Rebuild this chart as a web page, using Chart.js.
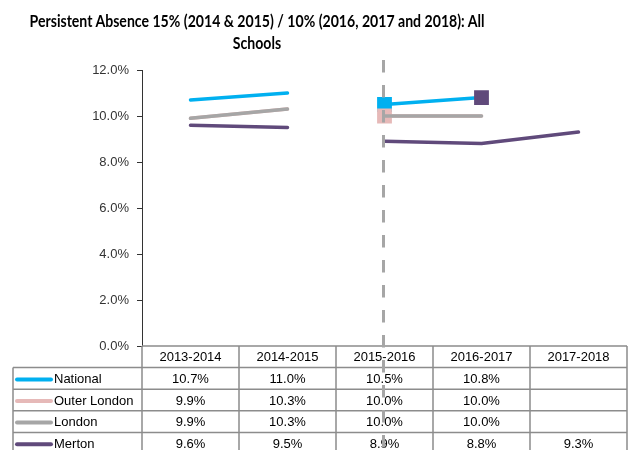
<!DOCTYPE html>
<html>
<head>
<meta charset="utf-8">
<script src="https://cdn.jsdelivr.net/npm/chart.js@4"></script>
<style>
  body { margin: 0; background: #fff; }
  #wrap { position: relative; width: 632px; height: 450px; overflow: hidden; }
  .tline {
    position: absolute; left: 257px; white-space: nowrap;
    font-family: Lato, "Liberation Sans", Arial, sans-serif;
    font-weight: bold; font-size: 17px; line-height: 22px; color: #000;
    transform-origin: 0 0;
  }
  canvas { position: absolute; left: 0; top: 0; }
</style>
</head>
<body>
<div id="wrap">
  <canvas id="chart" width="632" height="450"></canvas>
  <div class="tline" id="t1" style="top:10px">Persistent Absence 15% (2014 &amp; 2015) / 10% (2016, 2017 and 2018): All</div>
  <div class="tline" id="t2" style="top:32px">Schools</div>
</div>
<script>
const categories = ['2013-2014', '2014-2015', '2015-2016', '2016-2017', '2017-2018'];
const national = [10.7, 11.0, 10.5, 10.8, null];
const outerLondon = [9.9, 10.3, 10.0, 10.0, null];
const london = [9.9, 10.3, 10.0, 10.0, null];
const merton = [9.6, 9.5, 8.9, 8.8, 9.3];
const yTicks = [0, 2, 4, 6, 8, 10, 12];
const breakIndex = 2; // measure changed from 15% to 10% here

const BLUE = '#00B0F0', PINK = '#E6B9B8', GREY = '#A6A6A6', PURPLE = '#604A7B';

// squeeze the title to the narrow look of the original
const t1 = document.getElementById('t1'), t2 = document.getElementById('t2');
const k = 455 / t1.offsetWidth;
[t1, t2].forEach(el => {
    el.style.transform = `scaleX(${k}) translateX(-50%)`;
});

// no line across the change of threshold
const skipBreak = ctx => ctx.p1DataIndex === breakIndex ? 'rgba(0,0,0,0)' : undefined;

function lineSet(label, data, color, order, extra) {
    return Object.assign({
        label: label,
        data: data,
        borderColor: color,
        backgroundColor: color,
        borderWidth: 3.5,
        borderCapStyle: 'round',
        borderJoinStyle: 'round',
        pointRadius: 0,
        pointStyle: 'rect',
        tension: 0,
        order: order,
        segment: { borderColor: skipBreak }
    }, extra || {});
}

const dataTable = {
    id: 'dataTable',
    afterDraw(chart) {
        const ctx = chart.ctx;
        const xs = chart.scales.x;
        const top = chart.chartArea.bottom;
        const n = categories.length;
        const colW = (xs.right - xs.left) / n;
        const rowH = 21.6;
        const tableLeft = 13;
        const sets = chart.data.datasets;

        ctx.save();
        ctx.strokeStyle = '#8C8C8C';
        ctx.lineWidth = 1.5;
        ctx.font = '13px "Liberation Sans", Arial, sans-serif';
        ctx.textBaseline = 'middle';
        ctx.fillStyle = '#000';

        ctx.beginPath();
        ctx.moveTo(xs.left, top); ctx.lineTo(xs.right, top);
        for (let i = 0; i <= n; i++) {
            ctx.moveTo(xs.left + i * colW, top);
            ctx.lineTo(xs.left + i * colW, top + rowH * (sets.length + 1) + 4);
        }
        for (let r = 1; r <= sets.length; r++) {
            ctx.moveTo(tableLeft, top + r * rowH);
            ctx.lineTo(xs.right, top + r * rowH);
        }
        ctx.moveTo(tableLeft, top + rowH);
        ctx.lineTo(tableLeft, top + rowH * (sets.length + 1) + 4);
        ctx.stroke();

        ctx.textAlign = 'center';
        categories.forEach((c, i) => {
            ctx.fillText(c, xs.getPixelForValue(i), top + rowH / 2 + 1);
        });

        sets.forEach((ds, r) => {
            const cy = top + rowH * (r + 1) + rowH / 2 + 1;
            ctx.save();
            ctx.strokeStyle = ds.borderColor;
            ctx.lineWidth = 4;
            ctx.lineCap = 'round';
            ctx.beginPath();
            ctx.moveTo(tableLeft + 4, cy);
            ctx.lineTo(tableLeft + 38, cy);
            ctx.stroke();
            ctx.restore();
            ctx.textAlign = 'left';
            ctx.fillText(ds.label, tableLeft + 41, cy);
            ctx.textAlign = 'center';
            ds.data.forEach((v, i) => {
                if (v === null) return;
                ctx.fillText(v.toFixed(1) + '%', xs.getPixelForValue(i), cy);
            });
        });
        ctx.restore();
    }
};

const breakLine = {
    id: 'breakLine',
    afterDraw(chart) {
        const ctx = chart.ctx;
        const x = chart.scales.x.getPixelForValue(breakIndex) - 1;
        ctx.save();
        ctx.strokeStyle = GREY;
        ctx.lineWidth = 3;
        ctx.setLineDash([12.5, 12.5]);
        ctx.beginPath();
        ctx.moveTo(x, chart.chartArea.top - 10);
        ctx.lineTo(x, chart.height);
        ctx.stroke();
        ctx.restore();
    }
};

new Chart(document.getElementById('chart'), {
    type: 'line',
    data: {
        labels: categories,
        datasets: [
            lineSet('National', national, BLUE, 4, {
                pointRadius: [0, 0, 8, 8, 0],
                pointBackgroundColor: [BLUE, BLUE, BLUE, PURPLE, BLUE],
                pointBorderColor: [BLUE, BLUE, BLUE, PURPLE, BLUE]
            }),
            lineSet('Outer London', outerLondon, PINK, 3, {
                pointRadius: [0, 0, 8, 0, 0]
            }),
            lineSet('London', london, GREY, 2),
            lineSet('Merton', merton, PURPLE, 1)
        ]
    },
    options: {
        responsive: false,
        devicePixelRatio: 1,
        animation: false,
        layout: { padding: { left: 0, right: 5, top: 70, bottom: 104 } },
        plugins: {
            legend: { display: false },
            title: { display: false },
            tooltip: { enabled: false }
        },
        scales: {
            x: { type: 'category', offset: true, display: false },
            y: {
                min: 0,
                max: 12,
                afterBuildTicks: s => { s.ticks = yTicks.map(v => ({ value: v })); },
                afterFit: s => { s.width = 142; },
                ticks: {
                    callback: v => v.toFixed(1) + '%',
                    font: { family: '"Liberation Sans", Arial, sans-serif', size: 13 },
                    color: '#333',
                    padding: 8
                },
                grid: { drawOnChartArea: false, tickLength: 5, color: '#333' },
                border: { color: '#333', width: 1 }
            }
        }
    },
    plugins: [dataTable, breakLine]
});
</script>
</body>
</html>
